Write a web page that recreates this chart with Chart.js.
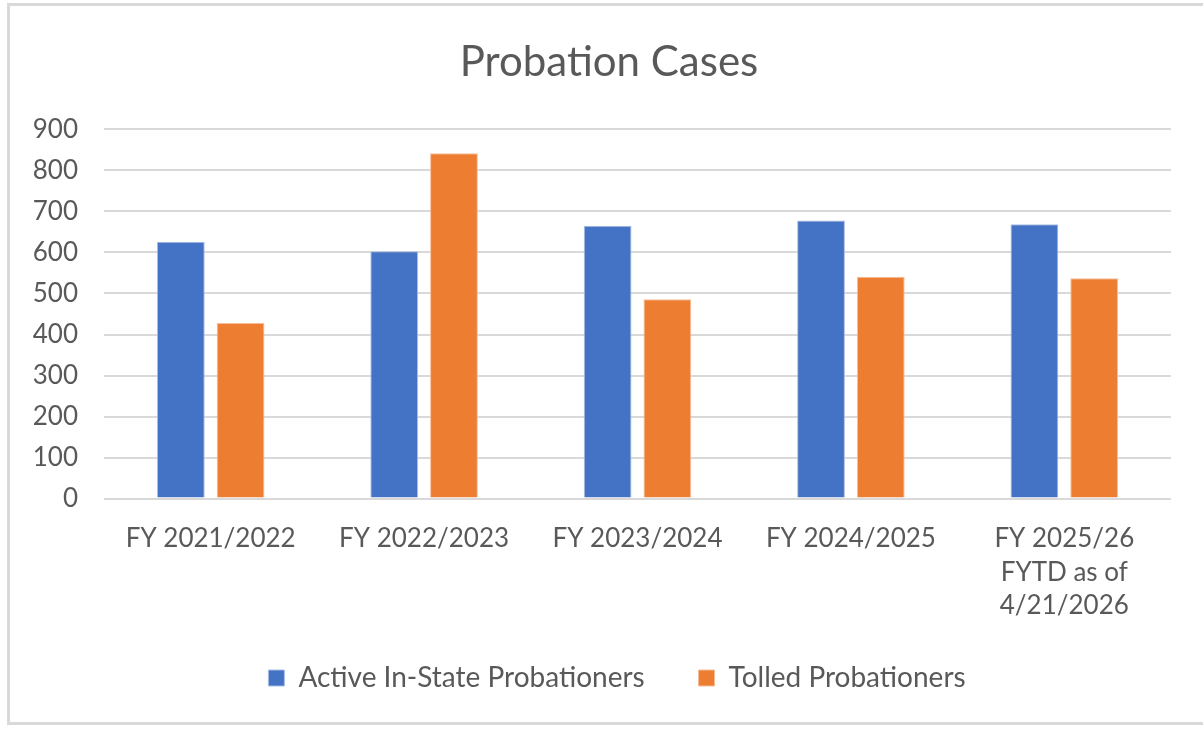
<!DOCTYPE html>
<html>
<head>
<meta charset="utf-8">
<script src="https://cdn.jsdelivr.net/npm/chart.js@4"></script>
<style>
    html, body { margin: 0; padding: 0; background: #ffffff; overflow: hidden; }
    #frame {
        position: absolute;
        left: 7px;
        top: 3px;
        width: 1200px;
        height: 716px;
        border: 3px solid #d9d9d9;
        border-right: none;
        background: #ffffff;
    }
    #chart-wrap { position: relative; width: 1200px; height: 716px; }
</style>
</head>
<body>
<div id="frame">
    <div id="chart-wrap"><canvas id="probation-chart"></canvas></div>
</div>
<script>
// Chart data
const categories = [
    'FY 2021/2022',
    'FY 2022/2023',
    'FY 2023/2024',
    'FY 2024/2025',
    ['FY 2025/26', 'FYTD as of', '4/21/2026']
];
const activeInState = [626, 603, 665, 678, 669];
const tolledProbationers = [428, 842, 486, 541, 537];
const yTicks = [0, 100, 200, 300, 400, 500, 600, 700, 800, 900];

document.addEventListener('DOMContentLoaded', function() {
    const ctx = document.getElementById('probation-chart');
    const textColor = '#595959';
    const fontFamily = 'Lato, "Open Sans", sans-serif';

    /**
     * Nudge title and legend to the right after layout,
     * so they sit centred like in the original chart
     */
    const nudgePlugin = {
        id: 'nudge',
        afterLayout: function(chart) {
            if (chart.titleBlock) {
                chart.titleBlock.left += 8;
                chart.titleBlock.right += 8;
            }
            if (chart.legend) {
                chart.legend.left += 16;
                chart.legend.right += 16;
            }
        }
    };

    new Chart(ctx, {
        type: 'bar',
        data: {
            labels: categories,
            datasets: [
                {
                    // trailing spaces widen the gap to the next legend item
                    label: 'Active In-State Probationers     ',
                    data: activeInState,
                    backgroundColor: '#4472c4',
                    borderColor: '#a9bde6',
                    borderWidth: 1
                },
                {
                    label: 'Tolled Probationers',
                    data: tolledProbationers,
                    backgroundColor: '#ed7d31',
                    borderColor: '#f6be98',
                    borderWidth: 1
                }
            ]
        },
        options: {
            responsive: true,
            maintainAspectRatio: false,
            animation: false,
            categoryPercentage: 0.56,
            barPercentage: 0.8,
            layout: {
                padding: { left: 21, right: 39, top: 8, bottom: 20 }
            },
            scales: {
                x: {
                    grid: { display: false, drawTicks: false },
                    border: { display: false },
                    ticks: {
                        color: textColor,
                        font: { family: fontFamily, size: 26, lineHeight: 1.3 },
                        maxRotation: 0,
                        padding: 23
                    }
                },
                y: {
                    min: 0,
                    max: yTicks[yTicks.length - 1],
                    afterBuildTicks: function(axis) {
                        axis.ticks = yTicks.map(v => ({ value: v }));
                    },
                    // fixed axis width so the plot starts where the original does
                    afterFit: function(axis) {
                        axis.width = 73;
                    },
                    grid: { color: '#d9d9d9', lineWidth: 2, drawTicks: false },
                    border: { display: false },
                    ticks: {
                        color: textColor,
                        font: { family: fontFamily, size: 26 },
                        padding: 26
                    }
                }
            },
            plugins: {
                title: {
                    display: true,
                    text: 'Probation Cases',
                    color: textColor,
                    font: { family: fontFamily, size: 42, weight: 'normal' },
                    padding: { top: 23, bottom: 42 }
                },
                legend: {
                    position: 'bottom',
                    labels: {
                        color: textColor,
                        font: { family: fontFamily, size: 28 },
                        boxWidth: 16,
                        boxHeight: 16,
                        padding: 18
                    }
                },
                tooltip: { enabled: false }
            }
        },
        plugins: [nudgePlugin]
    });
});
</script>
</body>
</html>
